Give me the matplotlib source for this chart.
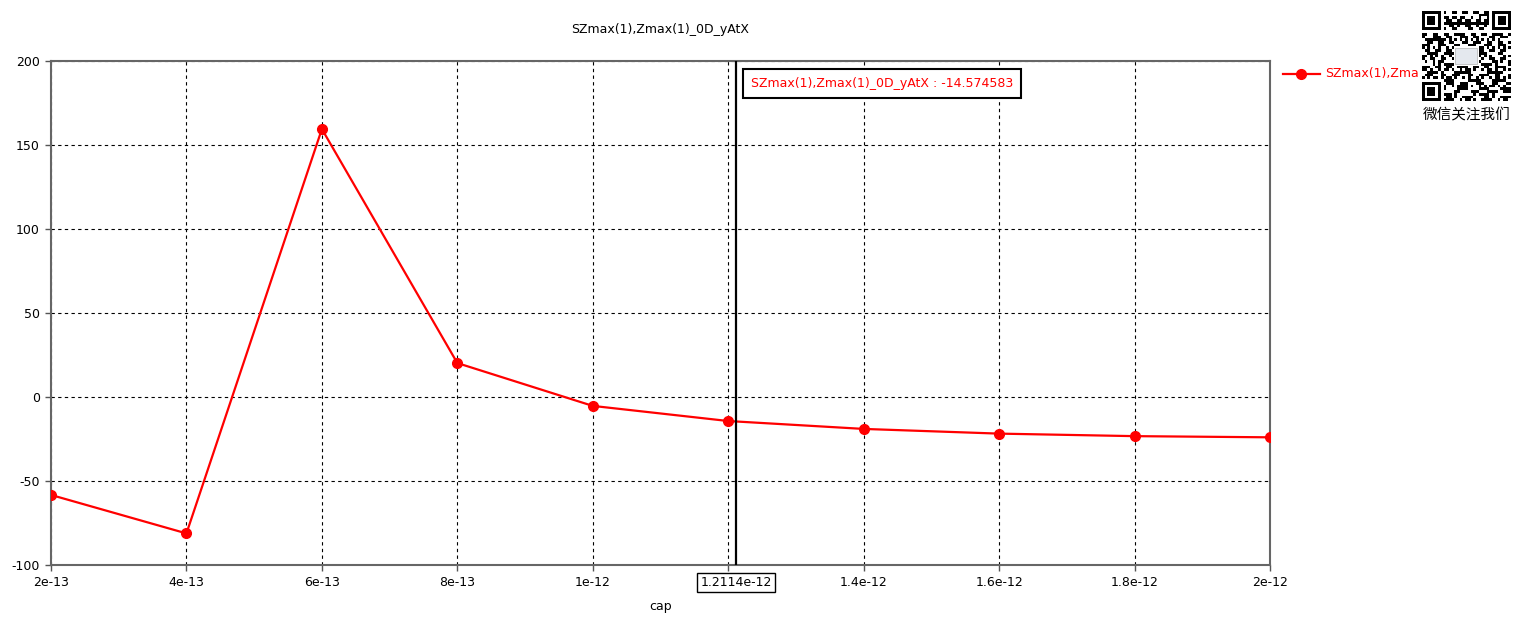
import matplotlib
matplotlib.use("Agg")
import matplotlib.pyplot as plt
import numpy as np
from matplotlib.lines import Line2D
from matplotlib.patches import Rectangle

plt.rcParams['font.family'] = ['DejaVu Sans', 'Noto Sans CJK SC']
plt.rcParams['axes.unicode_minus'] = False

title = "SZmax(1),Zmax(1)_0D_yAtX"
series_name = "SZmax(1),Zmax(1)_0D_yAtX"
x_vals = [2e-13, 4e-13, 6e-13, 8e-13, 1e-12, 1.2e-12, 1.4e-12, 1.6e-12, 1.8e-12, 2e-12]
y_vals = [-58.3, -81.2, 159.5, 20.2, -5.3, -14.3, -19.0, -21.8, -23.3, -24.0]
x_ticks = [2e-13, 4e-13, 6e-13, 8e-13, 1e-12, 1.2e-12, 1.4e-12, 1.6e-12, 1.8e-12, 2e-12]
x_tick_labels = ["2e-13", "4e-13", "6e-13", "8e-13", "1e-12", "", "1.4e-12", "1.6e-12", "1.8e-12", "2e-12"]
y_ticks = [-100, -50, 0, 50, 100, 150, 200]
cursor_x = 1.2114e-12
cursor_label = "1.2114e-12"
cursor_value = -14.574583
x_label = "cap"
qr_caption = "微信关注我们"

fig = plt.figure(figsize=(15.22, 6.2), dpi=100)
ax = fig.add_axes([51/1522, 1-565/620, (1270-51)/1522, (565-61)/620])

ax.plot(x_vals, y_vals, color='red', lw=1.6, marker='o', ms=7, zorder=3)
ax.set_xlim(2e-13, 2e-12)
ax.set_ylim(-100, 200)
ax.set_xticks(x_ticks)
ax.set_xticklabels(x_tick_labels)
ax.set_yticks(y_ticks)
ax.tick_params(labelsize=9, length=4, width=1, color='#555555', pad=4)
ax.grid(True, color='black', ls=(0, (3, 3)), lw=0.8)
for s in ax.spines.values():
    s.set_color('#666666')
    s.set_linewidth(1.5)

ax.axvline(cursor_x, color='black', lw=1.6, zorder=4)
ax.text(cursor_x, -0.022, cursor_label, transform=ax.get_xaxis_transform(),
        ha='center', va='top', fontsize=9,
        bbox=dict(boxstyle='square,pad=0.25', fc='white', ec='black', lw=1))
ax.text(0.574, 0.9555, f"{series_name} : {cursor_value}", transform=ax.transAxes,
        ha='left', va='center', fontsize=9, color='red', zorder=6,
        bbox=dict(boxstyle='square,pad=0.65', fc='white', ec='black', lw=1.5))

ax.set_xlabel(x_label, fontsize=9, labelpad=8)
fig.text(660/1522, 1-30/620, title, ha='center', va='center', fontsize=9)

# legend
fig.add_artist(Line2D([1283/1522, 1320/1522], [1-74/620, 1-74/620], color='red', lw=1.6,
                      transform=fig.transFigure))
fig.add_artist(Line2D([1301/1522], [1-74/620], color='red', marker='o', ms=7,
                      transform=fig.transFigure))
fig.text(1325/1522, 1-74/620, series_name, color='red', fontsize=9, ha='left', va='center')

# QR-like badge (decorative)
qax = fig.add_axes([1418/1522, 1-105/620, 96/1522, 97/620], zorder=10)
qax.patch.set_visible(True)
qax.patch.set_facecolor('white')
n = 33
ii, jj = np.meshgrid(np.arange(n), np.arange(n), indexing='ij')
grid = (((ii * 5 + jj * 3 + (ii * jj) % 7 + (ii // 3) * (jj // 2)) % 4) < 2).astype(float)
def finder(r, c):
    grid[max(r-1, 0):min(r+8, n), max(c-1, 0):min(c+8, n)] = 0
    grid[r:r+7, c:c+7] = 1
    grid[r+1:r+6, c+1:c+6] = 0
    grid[r+2:r+5, c+2:c+5] = 1
for (r, c) in [(0, 0), (0, n-7), (n-7, 0)]:
    finder(r, c)
grid[13:20, 12:21] = 0
qax.imshow(grid, cmap='Greys', vmin=0, vmax=1, extent=[0.04, 0.96, 0.04, 0.96],
           interpolation='nearest', aspect='auto')
qax.add_patch(Rectangle((0.39, 0.42), 0.22, 0.17, fc='#e4e8ee', ec='#b0b0b0', lw=0.5))
qax.set_xlim(0, 1)
qax.set_ylim(0, 1)
qax.set_xticks([])
qax.set_yticks([])
for s in qax.spines.values():
    s.set_visible(False)
fig.text(1467/1522, 1-115/620, qr_caption, ha='center', va='center', fontsize=10.5,
         family=['Noto Sans CJK SC', 'DejaVu Sans'], zorder=11)

fig.savefig('out.png', dpi=100)
